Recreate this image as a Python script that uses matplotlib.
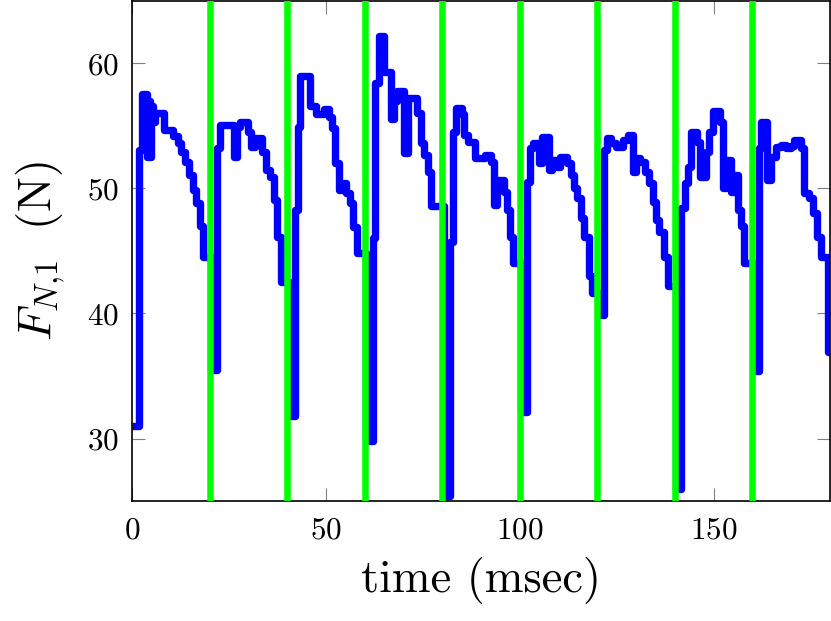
import numpy as np
import matplotlib
matplotlib.use('Agg')
import matplotlib.pyplot as plt

# Fuerza normal F_{N,1}: funcion escalonada (tiempo de cada cambio, valor)
t_ms = [0.0, 1.8, 2.7, 3.9, 4.3, 4.6, 5.0, 5.5, 6.0, 8.3, 10.5, 11.8, 12.6, 13.6,
        14.8, 15.7, 16.6, 17.5, 18.4, 20.4,
        21.9, 22.7, 26.2, 27.1, 27.9, 29.9, 30.8, 31.7, 33.6, 34.5, 35.6, 36.5,
        37.4, 38.4, 40.4,
        42.0, 42.7, 43.4, 46.0, 47.4, 49.4, 50.7, 51.5, 52.4, 53.4, 54.6, 55.3,
        56.2, 57.0, 58.0, 60.4,
        62.1, 62.7, 63.7, 65.0, 66.8, 67.5, 68.4, 70.2, 71.1, 73.6, 74.5, 75.4,
        76.3, 77.0, 80.4,
        82.0, 82.7, 83.5, 85.0, 85.7, 86.6, 88.4, 91.0, 92.6, 93.4, 94.2, 95.9,
        96.7, 97.6, 98.3, 100.4,
        101.8, 102.6, 103.3, 104.9, 105.8, 107.5, 108.2, 109.6, 110.4, 112.3,
        113.1, 114.0, 114.8, 115.7, 116.6, 117.8, 118.6, 120.4,
        121.8, 122.5, 123.5, 124.8, 126.5, 127.8, 129.2, 130.0, 131.0, 132.2,
        133.4, 134.3, 135.1, 136.0, 137.2, 138.3, 140.4,
        141.7, 142.5, 143.3, 144.1, 145.6, 146.5, 147.9, 148.9, 149.9, 151.7,
        152.5, 153.2, 154.4, 155.3, 156.3, 157.1, 157.9, 160.4,
        161.7, 162.3, 163.8, 164.9, 166.0, 167.4, 168.7, 169.9, 170.7, 172.6,
        173.3, 174.6, 175.7, 176.6, 177.7, 179.6, 180.0]
force_n = [31.0, 53.1, 57.5, 52.5, 57.0, 52.5, 56.6, 55.3, 56.0, 54.7, 54.2, 53.6, 52.9, 52.1,
           51.1, 49.9, 48.8, 47.0, 44.5, 35.5,
           53.2, 55.1, 52.5, 54.9, 55.3, 54.5, 53.3, 54.0, 52.9, 51.5, 50.9, 49.1,
           46.1, 42.5, 31.8,
           48.3, 54.9, 59.0, 56.6, 55.9, 56.3, 55.7, 54.8, 52.0, 49.9, 50.4, 49.6,
           48.8, 46.9, 44.8, 29.8,
           46.0, 58.4, 62.2, 59.3, 55.5, 57.0, 57.8, 52.8, 57.2, 56.0, 53.6, 52.7,
           51.3, 48.6, 25.4,
           45.7, 54.5, 56.4, 55.9, 54.3, 53.7, 52.4, 52.7, 52.1, 48.7, 50.7, 49.7,
           48.3, 46.1, 44.0, 32.1,
           50.5, 53.2, 53.6, 52.0, 54.1, 51.5, 52.3, 51.7, 52.5, 52.0,
           51.1, 50.0, 49.2, 47.6, 46.1, 43.0, 41.6, 39.9,
           53.1, 54.0, 53.6, 53.3, 53.9, 54.3, 51.3, 52.4, 52.1, 51.3,
           50.4, 48.9, 47.5, 46.5, 44.5, 42.2, 26.0,
           48.4, 50.4, 51.7, 54.5, 53.7, 50.9, 52.9, 54.5, 56.2, 55.3,
           50.0, 52.3, 49.7, 51.1, 48.3, 47.0, 44.0, 35.4,
           53.2, 55.3, 50.7, 52.5, 53.3, 53.5, 53.2, 53.4, 53.9, 53.2,
           49.6, 49.2, 48.0, 46.1, 44.5, 36.9, 36.9]

# Lineas verdes verticales
t_marcas = [20, 40, 60, 80, 100, 120, 140, 160]

x_ticks = [0, 50, 100, 150]
y_ticks = [30, 40, 50, 60]

plt.rcParams['font.family'] = 'serif'
plt.rcParams['font.serif'] = ['cmr10']
plt.rcParams['mathtext.fontset'] = 'cm'
plt.rcParams['axes.formatter.use_mathtext'] = True

fig = plt.figure(figsize=(8.31, 6.21), dpi=100)
ax = fig.add_axes([0.1588, 0.193, 0.8400, 0.806])

ax.plot(t_ms, force_n, drawstyle='steps-post', color='#0000ff', lw=5.3,
        solid_joinstyle='round', solid_capstyle='butt', zorder=2)
for t in t_marcas:
    ax.axvline(t, color='#00ff00', lw=4.7, zorder=3)

ax.set_xlim(0, 180)
ax.set_ylim(25, 65)
ax.set_xticks(x_ticks)
ax.set_yticks(y_ticks)
ax.tick_params(direction='in', length=9.5, width=0.8, color='#808080',
               labelsize=22.5, top=True, right=True)
ax.tick_params(axis='x', pad=11)
ax.tick_params(axis='y', pad=9)
for s in ax.spines.values():
    s.set_linewidth(1.2)

ax.set_xlabel(r'time (msec)', fontsize=33.5, labelpad=9)
ax.set_ylabel(r'$F_{N{,}1}\ \ (\mathrm{N})$', fontsize=33.5, labelpad=15)

fig.savefig('out.png', dpi=100)
